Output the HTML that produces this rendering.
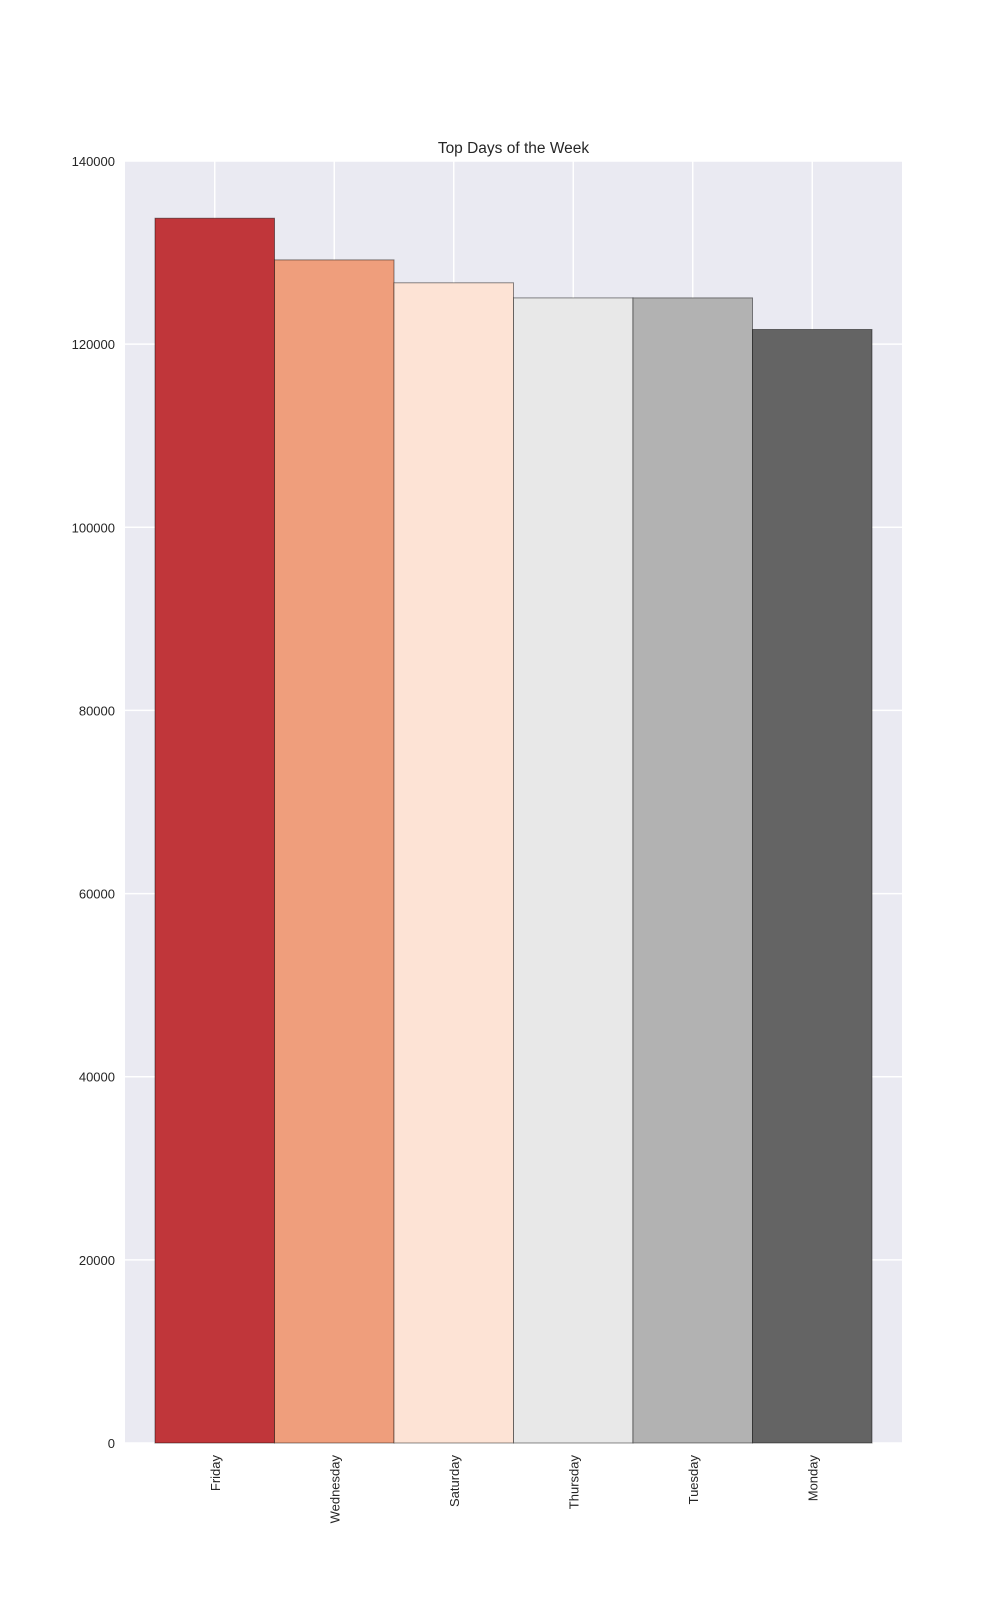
<!DOCTYPE html>
<html><head><meta charset="utf-8"><style>
body{margin:0;background:#fff;width:1000px;height:1600px;overflow:hidden}
svg text{font-family:"Liberation Sans",sans-serif;fill:#262626}
</style></head><body>
<svg id="chart" width="1000" height="1600"></svg>
<script>
const categories=["Friday","Wednesday","Saturday","Thursday","Tuesday","Monday"];
const values=[133750,129200,126700,125050,125050,121600];
const colors=["#c0363a","#ef9e7c","#fde3d5","#e8e8e8","#b2b2b2","#646464"];
const yTicks=[0,20000,40000,60000,80000,100000,120000,140000];
const L=125,R=902,T=161,B=1443,yMax=140000,x0=155,bw=119.5;
const NS="http://www.w3.org/2000/svg";
const svg=document.getElementById('chart');
const y=v=>B-(v/yMax)*(B-T);
const x=i=>x0+i*bw;
function mk(t,a){const e=document.createElementNS(NS,t);for(const k in a)e.setAttribute(k,a[k]);svg.appendChild(e);return e;}
const bg=mk('rect',{x:L,y:T,width:R-L,height:B-T,fill:'#eaeaf2'});


yTicks.forEach(t=>{
 const g=mk('line',{x1:L,x2:R,y1:y(t),y2:y(t),stroke:'#fff','stroke-width':1.5});
 
 
 const l=mk('text',{x:115,y:y(t)+5,'text-anchor':'end','font-size':13});
 l.textContent=t;
 
 
});
categories.forEach((c,i)=>{
 const cx=x(i)+bw/2;
 const g=mk('line',{x1:cx,x2:cx,y1:T,y2:B,stroke:'#fff','stroke-width':1.5});
 
 
});
categories.forEach((c,i)=>{
 const r=mk('rect',{x:x(i),y:y(values[i]),width:bw,height:B-y(values[i]),fill:colors[i],stroke:'rgba(0,0,0,0.45)','stroke-width':1});
 
 
 const cx=x(i)+bw/2;
 const t=mk('text',{x:cx+5,y:B+12,'text-anchor':'end','font-size':13,transform:`rotate(-90 ${cx+5} ${B+12})`});
 t.textContent=c;
 
 
});
const title=mk('text',{x:(L+R)/2,y:153,'text-anchor':'middle','font-size':15.5});
title.textContent='Top Days of the Week';


</script>
</body></html>
